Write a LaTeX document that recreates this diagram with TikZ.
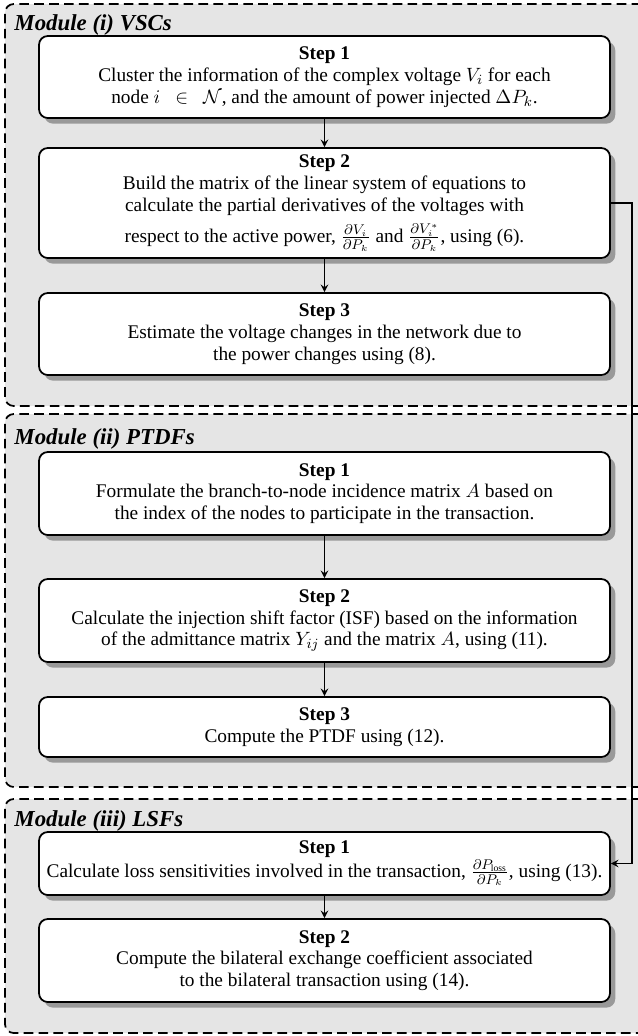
\documentclass[tikz,border=0pt]{standalone}
\usepackage{amsmath}
\usepackage{fontspec}
\setmainfont{Liberation Serif}
\usetikzlibrary{calc,shadows}
\def\px{0.02cm}

\begin{document}
\begin{tikzpicture}[x=\px,y=-\px]
    \tikzset{%
      module/.style={%
        draw, line width=1pt, dash pattern=on 5.5pt off 3pt, fill=black!10,
        rounded corners=5pt, inner sep=0pt, minimum width=645*\px},
      modtitle/.style={font=\fontsize{13}{15}\selectfont\bfseries\itshape, inner sep=0pt},
      stepbox/.style={%
        draw, line width=1pt, fill=white, rounded corners=5pt, align=center,
        inner sep=0pt, minimum width=571*\px, font=\fontsize{11}{12.4}\selectfont,
        drop shadow={shadow xshift=3pt, shadow yshift=-3.2pt, fill=black!40, opacity=1}},
      flow/.style={-stealth, line width=0.9pt}}

    \useasboundingbox (0,0) rectangle (637,1036);

    % the three modules
    \node[module, minimum height=402*\px] (vsc) at (327.5,205) {};
    \node[module, minimum height=373*\px] (ptdf) at (327.5,600.5) {};
    \node[module, minimum height=234*\px] (lsf) at (327.5,916) {};

    \node[modtitle, anchor=base west] (vsctitle) at ($(vsc.north west)+(10,27)$) {Module (i) VSCs};
    \node[modtitle, anchor=base west] (ptdftitle) at ($(ptdf.north west)+(10,31)$) {Module (ii) PTDFs};
    \node[modtitle, anchor=base west] (lsftitle) at ($(lsf.north west)+(10,28)$) {Module (iii) LSFs};

    % module (i)
    \node[stepbox, minimum height=82*\px] (vsc1) at (324.5,77) {\textbf{Step 1}\\
      Cluster the information of the complex voltage $V_i$ for each\\
      node $i\ \ \in\ \ \mathcal{N}$, and the amount of power injected $\Delta P_k$.};
    \node[stepbox, minimum height=110*\px] (vsc2) at (324.5,203) {\textbf{Step 2}\\
      Build the matrix of the linear system of equations to\\
      calculate the partial derivatives of the voltages with\\[3.5pt]
      respect to the active power, $\frac{\partial V_i}{\partial P_k}$ and $\frac{\partial V_i^*}{\partial P_k}$, using (6).};
    \node[stepbox, minimum height=82*\px] (vsc3) at (324.5,334) {\textbf{Step 3}\\
      Estimate the voltage changes in the network due to\\
      the power changes using (8).};

    % module (ii)
    \node[stepbox, minimum height=83*\px] (ptdf1) at (324.5,493.5) {\textbf{Step 1}\\
      Formulate the branch-to-node incidence matrix $A$ based on\\
      the index of the nodes to participate in the transaction.};
    \node[stepbox, minimum height=83*\px] (ptdf2) at (324.5,620.5) {\textbf{Step 2}\\
      Calculate the injection shift factor (ISF) based on the information\\
      of the admittance matrix $Y_{ij}$ and the matrix $A$, using (11).};
    \node[stepbox, minimum height=60*\px] (ptdf3) at (324.5,727) {\textbf{Step 3}\\
      Compute the PTDF using (12).};

    % module (iii)
    \node[stepbox, minimum height=63*\px] (lsf1) at (324.5,863.5) {\textbf{Step 1}\\
      Calculate loss sensitivities involved in the transaction, $\frac{\partial P_{\text{loss}}}{\partial P_k}$, using (13).};
    \node[stepbox, minimum height=83*\px] (lsf2) at (324.5,960.5) {\textbf{Step 2}\\
      Compute the bilateral exchange coefficient associated\\
      to the bilateral transaction using (14).};

    \draw[flow] (vsc1.south) -- (vsc2.north);
    \draw[flow] (vsc2.south) -- (vsc3.north);
    \draw[flow] (ptdf1.south) -- (ptdf2.north);
    \draw[flow] (ptdf2.south) -- (ptdf3.north);
    \draw[flow] (lsf1.south) -- (lsf2.north);

    % jump from module (i) to module (iii)
    \draw[flow] (vsc2.east) -- ++(21,0) |- (lsf1.east);
  \end{tikzpicture}
\end{document}
